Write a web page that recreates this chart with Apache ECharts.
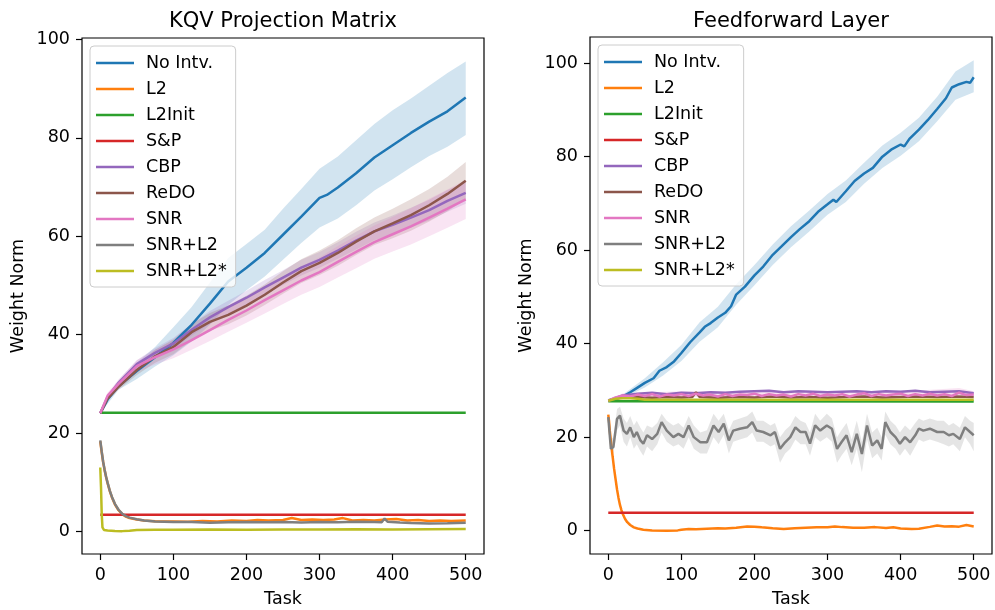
<!DOCTYPE html>
<html><head><meta charset="utf-8">
<script src="https://cdn.jsdelivr.net/npm/echarts@6/dist/echarts.min.js"></script>
<style>html,body{margin:0;padding:0;background:#fff}#c{width:995px;height:610px}</style>
</head><body><div id="c"></div>
<script>
// ---------- labels ----------
const panelTitles = ['KQV Projection Matrix', 'Feedforward Layer'];
const seriesNames = ['No Intv.', 'L2', 'L2Init', 'S&P', 'CBP', 'ReDO', 'SNR', 'SNR+L2', 'SNR+L2*'];
const xTicks = [0, 100, 200, 300, 400, 500];
const yTicks = [0, 20, 40, 60, 80, 100];

// ---------- KQV Projection Matrix : [task, mean] ----------
const kqvNoIntv = [[0,24],[10,26.8],[25,29.5],[50,32.6],[75,35.4],[100,38.3],[125,42],[150,46.3],[175,50.8],[200,53.6],[225,56.6],[250,60.3],[275,64],[300,67.8],[310,68.4],[325,69.9],[350,72.8],[375,76],[400,78.5],[425,81],[450,83.3],[475,85.4],[500,88.2]];
const kqvL2 = [[0,18.3],[2,16],[4,14],[6,12.4],[8,11],[10,9.8],[13,8.2],[16,6.9],[20,5.5],[25,4.3],[30,3.5],[35,3],[40,2.7],[50,2.4],[60,2.2],[75,2.05],[100,2.0],[120,1.95],[140,2.1],[160,2.0],[180,2.2],[200,2.1],[215,2.3],[230,2.2],[250,2.3],[262,2.7],[275,2.3],[290,2.4],[305,2.3],[320,2.4],[332,2.7],[345,2.2],[360,2.3],[375,2.2],[390,2.4],[405,2.5],[420,2.2],[435,2.3],[450,2.1],[465,2.2],[480,2.1],[500,2.2]];
const kqvL2Init = [[0,24.1],[500,24.1]];
const kqvSP = [[0,3.4],[500,3.4]];
const kqvCBP = [[0,24],[10,27.3],[25,30.2],[50,34],[75,36.3],[100,38.2],[125,41],[150,43.5],[175,45.6],[200,47.5],[225,49.6],[250,51.6],[275,53.6],[300,55.2],[325,57.1],[350,59.1],[375,61],[400,62.3],[425,63.8],[450,65.3],[475,67.2],[500,68.8]];
const kqvReDO = [[0,24],[10,27],[25,29.4],[50,32.8],[75,35.6],[100,37.5],[125,40.5],[150,42.6],[175,44],[200,45.9],[225,48.1],[250,50.6],[275,52.9],[300,54.6],[325,56.6],[350,58.9],[375,61],[400,62.6],[425,64.3],[450,66.3],[475,68.6],[500,71.3]];
const kqvSNR = [[0,24],[10,27.6],[25,30],[50,33.6],[75,35.4],[100,37],[125,38.9],[150,40.9],[175,43],[200,44.9],[225,47],[250,49],[275,51],[300,52.7],[325,54.8],[350,56.8],[375,58.8],[400,60.4],[425,62],[450,63.8],[475,65.6],[500,67.5]];
const kqvSNRL2 = [[0,18.5],[2,16.2],[4,14.1],[6,12.5],[8,11.1],[10,9.9],[13,8.3],[16,7],[20,5.6],[25,4.4],[30,3.6],[35,3.1],[40,2.8],[50,2.45],[60,2.2],[75,2.0],[100,1.9],[125,1.9],[150,1.75],[175,1.85],[200,1.9],[225,1.85],[250,1.9],[275,1.8],[300,1.9],[325,1.85],[350,1.95],[375,1.9],[385,1.85],[389,2.6],[393,1.95],[410,1.8],[425,1.7],[450,1.6],[475,1.65],[500,1.75]];
const kqvSNRL2s = [[0,13],[1,9],[2,3.5],[3,0.8],[5,0.3],[10,0.2],[20,0.1],[30,0.05],[40,0.15],[50,0.3],[75,0.35],[100,0.35],[150,0.4],[200,0.35],[250,0.4],[300,0.4],[350,0.45],[400,0.4],[450,0.45],[500,0.5]];

// KQV shaded bands : [task, low, high]
const kqvNoIntvBand = [[0,24,24],[25,28.8,30.4],[50,31,34.3],[75,33.5,37.5],[100,35.8,41.5],[125,38.6,45.6],[150,42,50.6],[175,46,55.6],[200,49,58.4],[225,51.8,61.3],[250,55.2,65.6],[275,58.6,69.6],[300,61.8,73.7],[325,63.6,76.2],[350,66.3,79.5],[375,69.3,82.8],[400,71.6,85.6],[425,74,88],[450,76.3,90.6],[475,78.2,93.2],[500,80.6,95.5]];
const kqvCBPBand = [[0,24,24],[10,26.9,27.7],[25,29.6,30.8],[50,33.2,34.8],[75,35.3,37.3],[100,37.1,39.3],[125,39.8,42.2],[150,42.2,44.8],[175,44.3,46.9],[200,46.1,48.9],[225,48.1,51.1],[250,50.1,53.1],[275,52,55.2],[300,53.6,56.8],[325,55.4,58.8],[350,57.3,60.9],[375,59.2,62.8],[400,60.4,64.2],[425,61.8,65.8],[450,63.2,67.4],[475,65,69.4],[500,66.6,71]];
const kqvReDOBand = [[0,24,24],[10,26.6,27.4],[25,28.8,30],[50,31.8,33.8],[75,34.3,36.9],[100,36,39],[125,38.8,42.2],[150,40.8,44.4],[175,42.1,45.9],[200,43.9,47.9],[225,46,50.2],[250,48.3,52.9],[275,50.5,55.3],[300,52.1,57.1],[325,54,59.2],[350,56.2,61.6],[375,58.2,63.8],[400,59.6,65.6],[425,61.1,67.5],[450,63,69.6],[475,65.1,72.1],[500,67.5,75.1]];
const kqvSNRBand = [[0,24,24],[10,27,28.2],[25,29.2,30.8],[50,32.4,34.8],[75,33.9,36.9],[100,35.2,38.8],[125,36.9,40.9],[150,38.7,43.1],[175,40.6,45.4],[200,42.4,47.4],[225,44.3,49.7],[250,46.2,51.8],[275,48.1,53.9],[300,49.7,55.7],[325,51.6,58],[350,53.5,60.1],[375,55.4,62.2],[400,56.9,63.9],[425,58.3,65.7],[450,60,67.6],[475,61.7,69.5],[500,63.5,71.5]];

// ---------- Feedforward Layer : [task, mean] ----------
const ffNoIntv = [[0,27.9],[10,28.1],[20,28.7],[30,29.6],[40,30.6],[50,31.6],[62,32.6],[70,34.2],[80,35],[90,36.2],[100,38],[112,40.3],[125,42.4],[132,43.6],[140,44.4],[150,45.6],[160,46.6],[168,48],[175,50.5],[187,52.2],[200,54.6],[212,56.5],[225,59],[237,60.8],[250,62.8],[262,64.5],[275,66.2],[287,68.2],[300,69.8],[308,70.8],[312,70.3],[325,72.6],[337,74.8],[350,76.4],[362,77.6],[375,80],[387,81.5],[400,82.6],[405,82.2],[412,83.8],[425,85.8],[437,87.8],[450,90.2],[462,92.5],[470,94.8],[480,95.5],[490,96],[495,95.8],[500,97]];
const ffL2 = [[0,24.8],[1,23.5],[2,21.5],[4,18.5],[6,15.8],[8,13.2],[10,11],[12,8.8],[14,7],[16,5.5],[18,4.4],[20,3.5],[23,2.5],[26,1.8],[30,1.2],[35,0.7],[40,0.45],[48,0.2],[60,0.05],[80,0.0],[95,0.05],[100,0.2],[110,0.35],[120,0.3],[135,0.4],[150,0.5],[160,0.45],[175,0.6],[190,0.9],[200,0.85],[210,0.7],[225,0.5],[240,0.35],[255,0.5],[270,0.6],[285,0.7],[300,0.7],[310,0.9],[320,0.75],[335,0.6],[350,0.6],[365,0.75],[380,0.55],[390,0.7],[400,0.45],[415,0.35],[425,0.4],[440,0.8],[450,1.1],[460,0.9],[470,0.95],[480,0.85],[490,1.2],[500,0.9]];
const ffL2Init = [[0,27.7],[500,27.6]];
const ffSP = [[0,3.8],[500,3.8]];
const ffCBP = [[0,27.8],[10,28.4],[20,28.9],[40,29.3],[60,29.5],[80,29.2],[100,29.5],[120,29.4],[140,29.6],[160,29.5],[180,29.7],[200,29.8],[220,29.9],[240,29.6],[260,29.8],[280,29.7],[300,29.6],[320,29.7],[340,29.8],[360,29.6],[380,29.8],[400,29.7],[420,29.9],[440,29.6],[460,29.7],[480,29.8],[500,29.4]];
const ffReDO = [[0,27.8],[10,28.3],[20,28.5],[40,28.6],[60,28.4],[80,28.6],[100,28.5],[115,28.6],[120,29.6],[125,28.6],[150,28.4],[175,28.6],[200,28.5],[225,28.7],[250,28.5],[275,28.6],[300,28.4],[325,28.6],[350,28.7],[375,28.5],[400,28.6],[425,28.7],[450,28.6],[475,28.7],[500,28.6]];
const ffSNR = [[0,27.8],[10,28.5],[20,28.9],[30,28.7],[40,29.1],[50,28.8],[60,29.2],[70,28.7],[80,29.1],[90,28.9],[100,29.2],[110,28.8],[120,29.3],[130,28.9],[140,29.1],[150,28.7],[160,29.2],[170,28.8],[180,29.1],[190,29.0],[200,29.3],[210,28.8],[220,29.2],[230,28.9],[240,29.1],[250,28.7],[260,29.2],[270,28.9],[280,29.3],[290,28.8],[300,29.1],[310,28.9],[320,29.2],[330,28.7],[340,29.1],[350,29.4],[360,28.8],[370,29.2],[380,28.9],[390,29.1],[400,29.3],[410,28.8],[420,29.2],[430,28.9],[440,29.3],[450,28.9],[460,29.2],[470,28.8],[480,29.5],[490,29.0],[500,29.1]];
const ffSNRL2 = [[0,24.3],[3.6,17.5],[7,17.9],[12,23.9],[16,24.6],[21,21.4],[25.5,20.7],[30,22.1],[35,20],[39,21.1],[44,19.3],[48,18.6],[53,20.4],[60,19.6],[67,20.7],[73,23.2],[80,21.4],[89,20],[96,20.7],[103,20],[110,22.5],[117,20],[126,18.9],[135,18.9],[144,22.5],[151,21.1],[158,22.9],[165,19.3],[171,21.4],[180,21.8],[190,22.1],[197,23.2],[203,21.4],[212,21.1],[222,20.4],[228,21.1],[235,17.5],[242,18.9],[249,20],[256,22.1],[263,21.1],[270,21.1],[276,18.6],[283,22.5],[290,21.4],[299,22.5],[306,21.8],[313,17.5],[319,18.9],[326,20.4],[333,16.8],[340,20.7],[347,16.4],[354,22.5],[361,18.2],[368,19.3],[374,17.5],[379,23.2],[386,21.1],[393,20],[399,18.6],[406,20],[413,18.9],[420,20.4],[425,21.8],[431,21.4],[440,21.8],[450,21.1],[459,21.1],[466,20.4],[472,20.7],[481,19.6],[488,22.1],[495,21.1],[500,20.4]];
const ffSNRL2s = [[0,27.8],[10,28.2],[20,28.3],[30,28.3],[40,28.2],[50,28.0],[100,28.0],[200,28.0],[300,28.0],[400,28.0],[500,28.0]];

// FF shaded bands : [task, low, high]
const ffNoIntvBand = [[0,27.8,28],[20,28.3,29.1],[50,30.6,32.6],[75,33.2,36],[100,36.3,39.7],[125,40.4,44.6],[150,43.5,47.9],[175,48.3,52.7],[200,52.5,56.8],[225,56.8,61.2],[250,60.6,65.1],[275,64,68.5],[300,67.6,72],[325,70.3,74.9],[350,74.2,78.7],[375,77.6,82.4],[400,80.2,85.1],[425,83.3,88.3],[450,87.6,92.8],[475,92.2,98.2],[500,93.8,100.6]];
const ffSNRBand = [[0,27.8,27.8],[20,28.4,29.4],[100,28.6,29.8],[180,28.5,29.7],[260,28.6,29.9],[340,28.5,29.8],[420,28.6,29.9],[480,28.7,30.5],[500,28.5,29.8]];
const ffSNRL2Band = [[0,23.8,24.8],[3.6,16,19.5],[7,16.5,20],[12,21.5,26],[16,22.5,26.5],[21,19,24],[25.5,18,23],[30,20,24.5],[35,17.5,22.5],[39,18.5,23.5],[44,17,22],[48,16,21],[53,18,22.5],[60,17,22],[67,18.5,23],[73,21,25],[80,19,23.5],[89,18,22.5],[96,18.5,23],[103,17.5,22],[110,20,24.5],[117,17.5,22.5],[126,16.5,21],[135,16.5,21.5],[144,20,25],[151,18.5,23.5],[158,20.5,25],[165,16.5,21.5],[171,19,23.5],[180,19.5,24],[190,20,24.5],[197,21,25.5],[203,19,23.5],[212,19,23.5],[222,18,22.5],[228,18.5,23],[235,14.5,20],[242,16.5,21.5],[249,17.5,22.5],[256,19.5,24.5],[263,18.5,23.5],[270,18.5,23],[276,16,21],[283,20,25],[290,19,23.5],[299,20,25],[306,19,24],[313,14.5,20],[319,16,21.5],[326,17.5,23],[333,14,19.5],[340,17.5,23.5],[347,12.5,19],[354,19.5,25],[361,15.5,21],[368,16.5,22],[374,15,20],[379,20.5,25.5],[386,18.5,23.5],[393,17.5,22.5],[399,16,21],[406,17.5,22.5],[413,16,21.5],[420,18,23],[425,19.5,24],[431,19,23.5],[440,19.5,24],[450,19,23.5],[459,18.5,23.5],[466,18,22.5],[472,18.5,23],[481,17,22],[488,20,24.5],[495,18.5,23.5],[500,17,23]];

// ---------- build ----------
const colors = ['#1f77b4','#ff7f0e','#2ca02c','#d62728','#9467bd','#8c564b','#e377c2','#7f7f7f','#bcbd22'];
const FONT = 'DejaVu Sans';
const panels = [
  { lines: [kqvNoIntv, kqvL2, kqvL2Init, kqvSP, kqvCBP, kqvReDO, kqvSNR, kqvSNRL2, kqvSNRL2s],
    bands: {0: kqvNoIntvBand, 4: kqvCBPBand, 5: kqvReDOBand, 6: kqvSNRBand},
    grid: {left: 82, top: 38, width: 402, height: 516}, ymin: -4.6, ymax: 100.3, titleX: 283, legend: {left: 90, top: 46} },
  { lines: [ffNoIntv, ffL2, ffL2Init, ffSP, ffCBP, ffReDO, ffSNR, ffSNRL2, ffSNRL2s],
    bands: {0: ffNoIntvBand, 6: ffSNRBand, 7: ffSNRL2Band},
    grid: {left: 590, top: 37, width: 402, height: 517}, ymin: -5.0, ymax: 105.6, titleX: 791, legend: {left: 598, top: 45} }
];

const series = [];
panels.forEach((p, pi) => {
  p.lines.forEach((data, i) => {
    const band = p.bands[i];
    if (band) {
      const fill = echarts.color.modifyAlpha(colors[i], 0.2);
      series.push({
        type: 'custom', name: 'band' + pi + '_' + i, xAxisIndex: pi, yAxisIndex: pi,
        silent: true, animation: false, clip: true,
        data: [[band[0][0], band[0][1]]],
        renderItem: (params, api) => {
          const up = band.map(d => api.coord([d[0], d[2]]));
          const lo = band.slice().reverse().map(d => api.coord([d[0], d[1]]));
          return { type: 'polygon', shape: { points: up.concat(lo) }, style: { fill: fill } };
        }
      });
    }
    series.push({
      type: 'line', name: seriesNames[i], data: data, xAxisIndex: pi, yAxisIndex: pi,
      symbol: 'none', showSymbol: false, animation: false, silent: true,
      lineStyle: { color: colors[i], width: 2.5 }, itemStyle: { color: colors[i] }
    });
  });
});

const axisText = { fontFamily: FONT, fontSize: 17.5, color: '#000' };
const option = {
  backgroundColor: '#fff',
  animation: false,
  title: panels.map((p, pi) => ({
    text: panelTitles[pi], left: p.titleX, top: 11, textAlign: 'center', padding: 0,
    textStyle: { fontFamily: FONT, fontSize: 21, fontWeight: 'normal', color: '#000' }
  })),
  grid: panels.map(p => Object.assign({ show: true, borderColor: '#000', borderWidth: 1.2, backgroundColor: 'transparent', containLabel: false, outerBoundsMode: 'none' }, p.grid)),
  xAxis: panels.map((p, pi) => ({
    type: 'value', gridIndex: pi, min: -25, max: 525,
    name: 'Task', nameLocation: 'middle', nameGap: 36, nameTextStyle: axisText,
    axisLine: { show: false, onZero: false },
    axisTick: { show: true, length: 6, lineStyle: { color: '#000', width: 1.2 }, customValues: xTicks },
    axisLabel: Object.assign({ customValues: xTicks, margin: 12 }, axisText),
    splitLine: { show: false }
  })),
  yAxis: panels.map((p, pi) => ({
    type: 'value', gridIndex: pi, min: p.ymin, max: p.ymax,
    name: 'Weight Norm', nameLocation: 'middle', nameGap: 55, nameTextStyle: axisText,
    axisLine: { show: false, onZero: false },
    axisTick: { show: true, length: 6, lineStyle: { color: '#000', width: 1.2 }, customValues: yTicks },
    axisLabel: Object.assign({ customValues: yTicks, margin: 12 }, axisText),
    splitLine: { show: false }
  })),
  legend: panels.map(p => ({
    data: seriesNames, orient: 'vertical', left: p.legend.left, top: p.legend.top,
    icon: 'rect', itemWidth: 38, itemHeight: 2.5, itemGap: 8, selectedMode: false,
    itemStyle: { borderWidth: 0 },
    padding: [8, 9, 7, 6],
    backgroundColor: 'rgba(255,255,255,0.8)', borderColor: '#cccccc', borderWidth: 1, borderRadius: 4,
    textStyle: { fontFamily: FONT, fontSize: 17.5, color: '#000', lineHeight: 18, padding: [0, 0, 0, 7] }
  })),
  series: series
};

const chart = echarts.init(document.getElementById('c'), null, { renderer: 'canvas' });
chart.setOption(option);
</script>
</body></html>
